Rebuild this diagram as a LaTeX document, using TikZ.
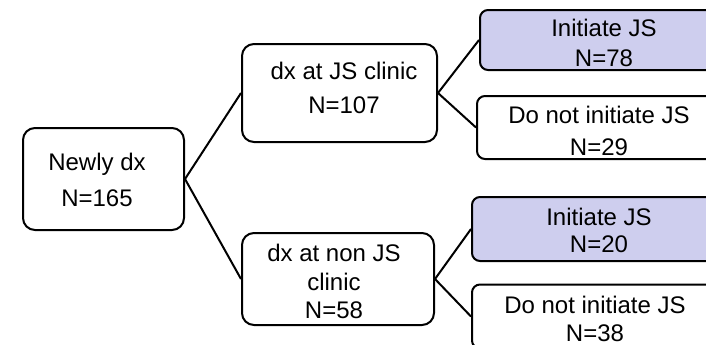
\documentclass[tikz,border=0pt]{standalone}
\usepackage{fontspec}
\setmainfont{Liberation Sans}
\definecolor{lav}{RGB}{206,206,238}
\begin{document}
\begin{tikzpicture}[x=0.5pt,y=-0.5pt,
  box/.style={draw=black,line width=1pt,rounded corners=6pt,inner sep=0pt},
  rbox/.style={box,rounded corners=4pt},
  txt/.style={align=center,inner sep=0pt},
  link/.style={draw=black,line width=1pt}]
\clip (0,0) rectangle (706,344);
\fill[white] (0,0) rectangle (706,344);
% boxes
\node[box,minimum width=80.5pt,minimum height=51pt] (n0) at (103.5,179) {};
\node[box,minimum width=97.5pt,minimum height=49pt] (n1) at (339.5,93) {};
\node[box,minimum width=96pt,minimum height=46pt] (n2) at (338,279) {};
\node[rbox,fill=lav,minimum width=124pt,minimum height=30pt] (n11) at (604,40) {};
\node[rbox,minimum width=122pt,minimum height=31.5pt] (n12) at (599,127.5) {};
\node[rbox,fill=lav,minimum width=127pt,minimum height=32pt] (n21) at (599,229) {};
\node[rbox,minimum width=123pt,minimum height=32pt] (n22) at (595,316.5) {};
% texts
\node[txt,font=\fontsize{12}{18}\selectfont] (t0) at (97,180) {Newly dx\\N=165};
\node[txt,font=\fontsize{12}{17}\selectfont] (t1) at (344,88) {dx at JS clinic\\N=107};
\node[txt,font=\fontsize{12}{14.25}\selectfont] (t2) at (334,281.5) {dx at non JS\\clinic\\N=58};
\node[txt,font=\fontsize{12}{15}\selectfont] (t11) at (604,43) {Initiate JS\\N=78};
\node[txt,font=\fontsize{12}{16}\selectfont] (t12) at (599,131) {Do not initiate JS\\N=29};
\node[txt,font=\fontsize{12}{13.5}\selectfont] (t21) at (599,230.5) {Initiate JS\\N=20};
\node[txt,font=\fontsize{12}{14}\selectfont] (t22) at (595,319) {Do not initiate JS\\N=38};
% connectors
\draw[link] (n0.east) -- (n1.west);
\draw[link] (n0.east) -- (n2.west);
\draw[link] (n1.east) -- (n11.west);
\draw[link] (n1.east) -- (n12.west);
\draw[link] (n2.east) -- (n21.west);
\draw[link] (n2.east) -- (n22.west);
\end{tikzpicture}
\end{document}
